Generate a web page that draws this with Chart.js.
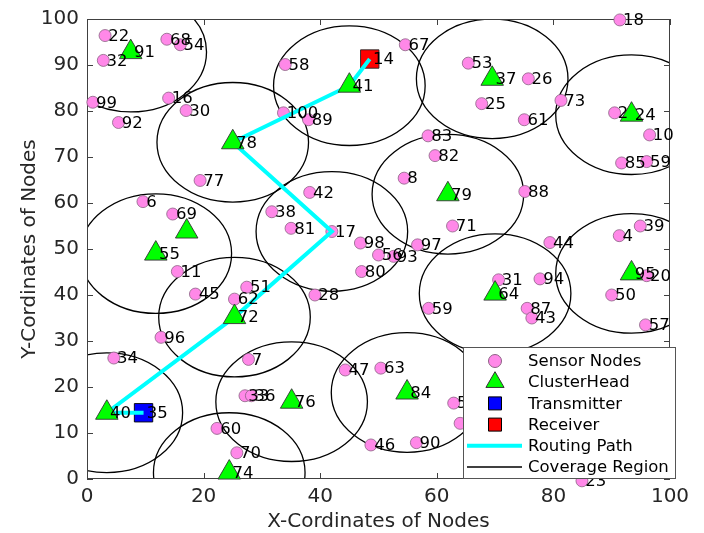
<!DOCTYPE html>
<html>
<head>
<meta charset="utf-8">
<script src="https://cdn.jsdelivr.net/npm/chart.js@4.4.1/dist/chart.umd.min.js"></script>
<style>
  html, body { margin: 0; padding: 0; background: #ffffff; }
  #c { display: block; }
</style>
</head>
<body>
<canvas id="c" width="704" height="533"></canvas>
<script>
// ---- node data (field coordinates, 0..100) ----
const sensorIds = ['22','32','68','54','99','92','16','30','58','100','89','67','53','25','83','82','26','73','61','18',
                   '2','10','85','59','77','6','69','11','45','51','62','38','81','42','17','8','71','98','56','93',
                   '97','80','28','59','31','94','87','43','88','44','4','39','20','50','57','96','34','7','33','36',
                   '60','70','47','63','46','90','52','12','23'];
const sensorX = [3.1, 2.8, 13.7, 16.0, 1.0, 5.4, 14.0, 17.0, 34.0, 33.7, 38.0, 54.6, 65.4, 67.7, 58.5, 59.7, 75.7, 81.3, 75.0, 91.4,
                 90.5, 96.5, 91.7, 96.0, 19.4, 9.6, 14.7, 15.5, 18.6, 27.4, 25.3, 31.7, 35.0, 38.2, 42.0, 54.4, 62.7, 46.9, 50.0, 52.6,
                 56.7, 47.1, 39.1, 58.6, 70.6, 77.7, 75.5, 76.3, 75.1, 79.4, 91.3, 94.9, 96.0, 90.0, 95.8, 12.7, 4.6, 27.7, 27.1, 28.2,
                 22.3, 25.7, 44.3, 50.4, 48.7, 56.5, 62.9, 64.0, 84.9];
const sensorY = [96.4, 91.0, 95.6, 94.4, 81.9, 77.5, 82.8, 80.1, 90.1, 79.6, 78.1, 94.4, 90.4, 81.6, 74.6, 70.3, 87.0, 82.3, 78.1, 99.8,
                 79.6, 74.8, 68.7, 69.0, 64.9, 60.3, 57.6, 45.1, 40.2, 41.7, 39.1, 58.1, 54.5, 62.3, 53.8, 65.4, 55.0, 51.3, 48.7, 48.4,
                 50.9, 45.1, 40.0, 37.1, 43.3, 43.5, 37.1, 35.0, 62.5, 51.4, 52.9, 55.0, 44.2, 40.0, 33.5, 30.8, 26.3, 26.0, 18.1, 18.1,
                 11.0, 5.7, 23.7, 24.1, 7.4, 7.9, 16.5, 12.1, -0.4];

const headIds = ['91','78','41','37','24','79','','55','72','64','95','40','74','76','84'];
const headX   = [7.5, 25.0, 45.0, 69.5, 93.4, 61.9, 17.1, 11.8, 25.3, 70.0, 93.4, 3.4, 24.4, 35.1, 54.9];
const headY   = [92.8, 73.2, 85.5, 87.0, 79.2, 61.9, 53.8, 49.0, 35.2, 40.3, 44.7, 14.4, 1.4, 16.8, 18.8];

const transmitterIds = ['35'];
const transmitterX = [9.7];
const transmitterY = [14.4];

const receiverIds = ['14'];
const receiverX = [48.5];
const receiverY = [91.3];

// hop sequence from transmitter to receiver
const routeIds = ['35','40','72','17','78','41','14'];

// nodes that own a coverage region, and its radius in field units
const coverageIds = ['91','78','41','37','24','79','17','55','72','64','95','40','74','76','84'];
const coverageRadius = 13;

const xTickValues = [0, 20, 40, 60, 80, 100];
const yTickValues = [0, 10, 20, 30, 40, 50, 60, 70, 80, 90, 100];

// ---- lookups ----
const nodePos = {};
sensorIds.forEach((id, i) => { if (!(id in nodePos)) nodePos[id] = {x: sensorX[i], y: sensorY[i]}; });
headIds.forEach((id, i) => { if (id) nodePos[id] = {x: headX[i], y: headY[i]}; });
transmitterIds.forEach((id, i) => { nodePos[id] = {x: transmitterX[i], y: transmitterY[i]}; });
receiverIds.forEach((id, i) => { nodePos[id] = {x: receiverX[i], y: receiverY[i]}; });

const zip = (xs, ys) => xs.map((x, i) => ({x, y: ys[i]}));

const FONT = '"DejaVu Sans", "Liberation Sans", sans-serif';
const PINK = '#FF88E8', PINK_EDGE = '#8c6284';
const GREEN = '#00FF00', CYAN = '#00FFFF';

// ---- plugins ----
const coveragePlugin = {
  id: 'coverage',
  beforeDatasetsDraw(chart) {
    const {ctx, chartArea: a, scales: {x, y}} = chart;
    ctx.save();
    ctx.beginPath();
    ctx.rect(a.left, a.top, a.right - a.left, a.bottom - a.top);
    ctx.clip();
    ctx.strokeStyle = '#000000';
    ctx.lineWidth = 1.3;
    coverageIds.forEach(id => {
      const p = nodePos[id];
      const cx = x.getPixelForValue(p.x), cy = y.getPixelForValue(p.y);
      const rx = x.getPixelForValue(p.x + coverageRadius) - cx;
      const ry = cy - y.getPixelForValue(p.y + coverageRadius);
      ctx.beginPath();
      ctx.ellipse(cx, cy, rx, ry, 0, 0, Math.PI * 2);
      ctx.stroke();
    });
    ctx.restore();
  }
};

const axesBoxPlugin = {
  id: 'axesBox',
  beforeDatasetsDraw(chart) {
    const {ctx, chartArea: a, scales: {x, y}} = chart;
    const tl = 6;
    ctx.save();
    ctx.strokeStyle = '#404040';
    ctx.lineWidth = 1;
    ctx.strokeRect(a.left + 0.5, a.top + 0.5, a.right - a.left - 1, a.bottom - a.top - 1);
    ctx.beginPath();
    xTickValues.forEach(v => {
      const px = Math.round(x.getPixelForValue(v)) + 0.5;
      ctx.moveTo(px, a.bottom); ctx.lineTo(px, a.bottom - tl);
      ctx.moveTo(px, a.top); ctx.lineTo(px, a.top + tl);
    });
    yTickValues.forEach(v => {
      const py = Math.round(y.getPixelForValue(v)) + 0.5;
      ctx.moveTo(a.left, py); ctx.lineTo(a.left + tl, py);
      ctx.moveTo(a.right, py); ctx.lineTo(a.right - tl, py);
    });
    ctx.stroke();
    ctx.restore();
  }
};

const nodeLabelPlugin = {
  id: 'nodeLabels',
  afterDatasetsDraw(chart) {
    const {ctx, scales: {x}} = chart;
    const dx = x.getPixelForValue(0.55) - x.getPixelForValue(0);
    ctx.save();
    ctx.font = '16.5px ' + FONT;
    ctx.fillStyle = '#000000';
    ctx.textAlign = 'left';
    ctx.textBaseline = 'middle';
    chart.data.datasets.forEach((ds, di) => {
      if (!ds.nodeLabels) return;
      chart.getDatasetMeta(di).data.forEach((el, i) => {
        const t = ds.nodeLabels[i];
        if (t) ctx.fillText(t, el.x + dx, el.y + 1);
      });
    });
    ctx.restore();
  }
};

function drawMarker(ctx, kind, cx, cy, fill, edge) {
  ctx.beginPath();
  if (kind === 'circle') {
    ctx.arc(cx, cy, 6.5, 0, Math.PI * 2);
  } else if (kind === 'triangle') {
    const r = 10.5;
    ctx.moveTo(cx, cy - r);
    ctx.lineTo(cx + r * Math.sin(2 * Math.PI / 3), cy - r * Math.cos(2 * Math.PI / 3));
    ctx.lineTo(cx + r * Math.sin(4 * Math.PI / 3), cy - r * Math.cos(4 * Math.PI / 3));
    ctx.closePath();
  } else {
    ctx.rect(cx - 6.5, cy - 6.5, 13, 13);
  }
  ctx.fillStyle = fill;
  ctx.fill();
  ctx.lineWidth = 1;
  ctx.strokeStyle = edge;
  ctx.stroke();
}

const legendPlugin = {
  id: 'boxLegend',
  afterDraw(chart) {
    const {ctx} = chart;
    const bx = 463, by = 347, bw = 213, bh = 132;
    ctx.save();
    ctx.fillStyle = '#ffffff';
    ctx.fillRect(bx, by, bw, bh);
    ctx.strokeStyle = '#555555';
    ctx.lineWidth = 1;
    ctx.strokeRect(bx + 0.5, by + 0.5, bw - 1, bh - 1);
    const ds = chart.data.datasets;
    const items = [
      {text: ds[0].label, kind: 'circle', fill: PINK, edge: PINK_EDGE},
      {text: ds[1].label, kind: 'triangle', fill: GREEN, edge: '#333333'},
      {text: ds[2].label, kind: 'rect', fill: '#0000FF', edge: '#000000'},
      {text: ds[3].label, kind: 'rect', fill: '#FF0000', edge: '#000000'},
      {text: ds[4].label, kind: 'line', color: CYAN, width: 4},
      {text: 'Coverage Region', kind: 'line', color: '#000000', width: 1.3}
    ];
    const mx = 495, x0 = 467, x1 = 522, tx = 528;
    ctx.font = '16.5px ' + FONT;
    ctx.textAlign = 'left';
    ctx.textBaseline = 'middle';
    items.forEach((it, i) => {
      const cy = 361 + i * 21.2;
      if (it.kind === 'line') {
        ctx.beginPath();
        ctx.moveTo(x0, cy); ctx.lineTo(x1, cy);
        ctx.strokeStyle = it.color;
        ctx.lineWidth = it.width;
        ctx.stroke();
      } else {
        drawMarker(ctx, it.kind, mx, cy, it.fill, it.edge);
      }
      ctx.fillStyle = '#000000';
      ctx.fillText(it.text, tx, cy + 1);
    });
    ctx.restore();
  }
};

// ---- chart ----
const routePoints = routeIds.map(id => ({x: nodePos[id].x, y: nodePos[id].y}));

new Chart(document.getElementById('c'), {
  type: 'scatter',
  data: {
    datasets: [
      {
        label: 'Sensor Nodes', data: zip(sensorX, sensorY), nodeLabels: sensorIds,
        pointStyle: 'circle', pointRadius: 6, backgroundColor: PINK, borderColor: PINK_EDGE,
        borderWidth: 0.8, order: 5, clip: false
      },
      {
        label: 'ClusterHead', data: zip(headX, headY), nodeLabels: headIds,
        pointStyle: 'triangle', pointRadius: 13, backgroundColor: GREEN, borderColor: '#333333',
        borderWidth: 0.9, order: 1, clip: false
      },
      {
        label: 'Transmitter', data: zip(transmitterX, transmitterY), nodeLabels: transmitterIds,
        pointStyle: 'rect', pointRadius: 13, backgroundColor: '#0000FF', borderColor: '#000000',
        borderWidth: 0.9, order: 4, clip: false
      },
      {
        label: 'Receiver', data: zip(receiverX, receiverY), nodeLabels: receiverIds,
        pointStyle: 'rect', pointRadius: 13, backgroundColor: '#FF0000', borderColor: '#222222',
        borderWidth: 0.9, order: 3, clip: false
      },
      {
        label: 'Routing Path', data: routePoints, showLine: true,
        borderColor: CYAN, borderWidth: 4, pointRadius: 0, fill: false,
        tension: 0, order: 2, clip: false
      }
    ]
  },
  options: {
    responsive: false,
    devicePixelRatio: 1,
    animation: false,
    events: [],
    layout: { padding: { top: 19, right: 34, left: 0, bottom: 0 } },
    plugins: { legend: { display: false }, tooltip: { enabled: false } },
    scales: {
      x: {
        type: 'linear', min: 0, max: 100,
        afterBuildTicks: s => { s.ticks = xTickValues.map(v => ({value: v})); },
        afterFit: s => { s.height = 54; },
        grid: { display: false, drawTicks: false },
        border: { display: false },
        ticks: { padding: 8, color: '#262626', font: { family: FONT, size: 20, lineHeight: 1 }, maxRotation: 0 },
        title: { display: true, text: 'X-Cordinates of Nodes', color: '#262626',
                 font: { family: FONT, size: 20, lineHeight: 1 }, padding: { top: 0, bottom: 1 } }
      },
      y: {
        type: 'linear', min: 0, max: 100,
        afterBuildTicks: s => { s.ticks = yTickValues.map(v => ({value: v})); },
        afterFit: s => { s.width = 87; },
        grid: { display: false, drawTicks: false },
        border: { display: false },
        ticks: { padding: 8, color: '#262626', font: { family: FONT, size: 20, lineHeight: 1 } },
        title: { display: true, text: 'Y-Cordinates of Nodes', color: '#262626',
                 font: { family: FONT, size: 20, lineHeight: 1 }, padding: { top: 20, bottom: 0 } }
      }
    }
  },
  plugins: [coveragePlugin, axesBoxPlugin, nodeLabelPlugin, legendPlugin]
});
</script>
</body>
</html>
